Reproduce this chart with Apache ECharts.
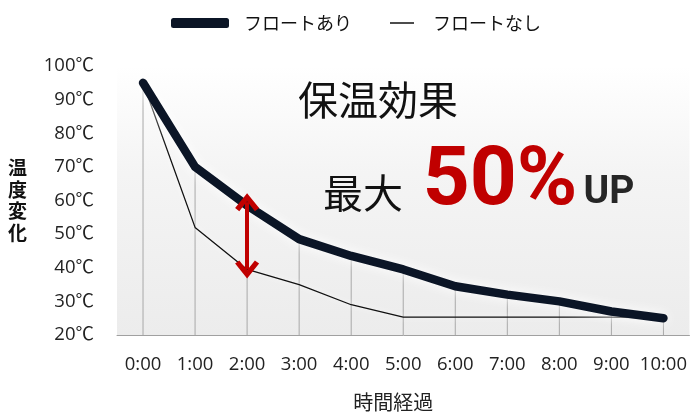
<!DOCTYPE html>
<html><head><meta charset="utf-8">
<script src="https://cdn.jsdelivr.net/npm/echarts@6/dist/echarts.min.js"></script>
<style>html,body{margin:0;padding:0;background:#fff}#c{width:690px;height:417px}</style>
</head><body><div id="c"></div>
<script>
const categories = ['0:00','1:00','2:00','3:00','4:00','5:00','6:00','7:00','8:00','9:00','10:00'];
const withFloat = [95, 70, 58.5, 48.5, 43.5, 39.5, 34.5, 32, 30, 27, 25];
const withoutFloat = [95, 52, 39.5, 35, 29, 25.3, 25.3, 25.3, 25.3, 25.3, 25];
const arrowRange = [59.5, 39.5];
const arrowAt = '2:00';
const nameWith = 'フロートあり';
const nameWithout = 'フロートなし';
const FONT = '"Open Sans", "Noto Sans CJK JP", sans-serif';
const JP = '"Noto Sans CJK JP", sans-serif';
const chart = echarts.init(document.getElementById('c'));
const chevron = 'path://M0,12 L10,0 L20,12 L16.5,14.5 L10,6.5 L3.5,14.5 Z';
chart.setOption({
  animation: false,
  backgroundColor: '#fff',
  legend: [
    {left: 166, top: 9, data: [{name: nameWith, icon: 'roundRect'}], itemWidth: 58, itemHeight: 10,
     textStyle: {fontFamily: JP, fontSize: 18, color: '#111', padding: [0,0,0,10]}},
    {left: 385, top: 9, data: [{name: nameWithout, icon: 'rect'}], itemWidth: 24, itemHeight: 1.5,
     textStyle: {fontFamily: JP, fontSize: 18, color: '#111', padding: [0,0,0,14]}}
  ],
  grid: {left: 117, right: 0, top: 66, bottom: 79, show: true, borderWidth: 0,
    backgroundColor: {type: 'linear', x: 0, y: 0, x2: 0, y2: 1,
      colorStops: [{offset: 0, color: '#ffffff'}, {offset: 0.4, color: '#f4f4f4'}, {offset: 1, color: '#ececec'}]}},
  xAxis: {type: 'category', data: categories, boundaryGap: true,
    axisLine: {lineStyle: {color: '#a0a0a0', width: 1}},
    axisTick: {show: false},
    axisLabel: {interval: 0, fontFamily: FONT, fontSize: 18.5, color: '#222', margin: 20},
    name: '時間経過', nameLocation: 'middle', nameGap: 57,
    nameTextStyle: {fontFamily: JP, fontSize: 20, color: '#222', padding: [0, 20, 0, 0]}},
  yAxis: {type: 'value', min: 20, max: 100, interval: 10,
    splitLine: {show: false}, axisLine: {show: false}, axisTick: {show: false},
    axisLabel: {formatter: '{value}℃', fontFamily: FONT, fontSize: 18.5, color: '#222', margin: 23},
    name: '温\n度\n変\n化', nameLocation: 'middle', nameRotate: 0, nameGap: 90,
    nameTextStyle: {fontFamily: JP, fontSize: 19, fontWeight: 'bold', color: '#111', lineHeight: 21.5}},
  series: [
    {type: 'bar', data: withFloat, barWidth: 1, silent: true, z: 1,
     itemStyle: {color: '#a8a8a8'}},
    {name: nameWithout, type: 'line', data: withoutFloat, showSymbol: false, symbol: 'none', z: 3,
     lineStyle: {color: '#111', width: 1.3, shadowColor: '#ffffff', shadowBlur: 6},
     itemStyle: {color: '#111'},
     markLine: {silent: true, symbol: [chevron, chevron], symbolSize: [24, 18], label: {show: false},
       lineStyle: {color: '#c00000', width: 4, type: 'solid'},
       itemStyle: {color: '#c00000'},
       data: [[{coord: [arrowAt, arrowRange[0]]}, {coord: [arrowAt, arrowRange[1]]}]]}},
    {name: nameWith, type: 'line', data: withFloat, showSymbol: false, symbol: 'none', z: 4,
     lineStyle: {color: '#0b1526', width: 8.5, cap: 'round', join: 'round', shadowColor: '#ffffff', shadowBlur: 12},
     itemStyle: {color: '#0b1526'}}
  ],
  graphic: [
    {type: 'text', x: 378, y: 100, style: {text: '保温効果', fontFamily: JP, fontSize: 40, fontWeight: 'normal', fill: '#111', align: 'center', verticalAlign: 'middle', shadowColor: 'rgba(0,0,0,0.45)', shadowBlur: 4, shadowOffsetX: 2, shadowOffsetY: 2}},
    {type: 'text', x: 363, y: 193, style: {text: '最大', fontFamily: JP, fontSize: 40, fill: '#111', align: 'center', verticalAlign: 'middle', shadowColor: 'rgba(0,0,0,0.45)', shadowBlur: 4, shadowOffsetX: 2, shadowOffsetY: 2}},
    {type: 'text', x: 500, y: 183, style: {text: '50%', fontFamily: 'Roboto, sans-serif', fontSize: 82, fontWeight: 'bold', fill: '#c00000', align: 'center', verticalAlign: 'middle', shadowColor: 'rgba(0,0,0,0.4)', shadowBlur: 4, shadowOffsetX: 2, shadowOffsetY: 2}},
    {type: 'text', x: 609, y: 193, style: {text: 'UP', fontFamily: 'Roboto, sans-serif', fontSize: 39, fontWeight: 'bold', fill: '#262626', align: 'center', verticalAlign: 'middle', shadowColor: 'rgba(0,0,0,0.4)', shadowBlur: 4, shadowOffsetX: 2, shadowOffsetY: 2}}
  ]
});
</script></body></html>
